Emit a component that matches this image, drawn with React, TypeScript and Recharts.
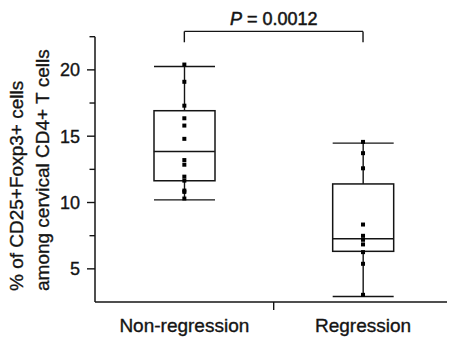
import React from 'react';
import { ComposedChart, Bar, Scatter, XAxis, YAxis, ReferenceLine } from 'recharts';

// groups and box statistics
const groups = ['Non-regression', 'Regression'];
const groupPos = [0.5, 1.5];
const whiskerLow = [10.2, 2.92];
const quartile1 = [11.64, 6.32];
const medians = [13.84, 7.26];
const quartile3 = [16.92, 11.4];
const whiskerHigh = [20.25, 14.48];

// individual patients
const nonRegressionValues = [20.4, 19.1, 17.3, 16.35, 15.8, 14.8, 13.2, 12.85, 11.95, 11.65, 10.9, 10.8, 10.3];
const regressionValues = [14.57, 13.72, 12.58, 8.34, 7.49, 7.19, 6.84, 6.26, 5.38, 3.04];

const yTicks = [5, 7.5, 10, 12.5, 15, 17.5, 20, 22.5];
const xTicks = [0.5, 1, 1.5];
const pValue = '0.0012';

const boxRows = groups.map((name, i) => ({
  name,
  pos: groupPos[i],
  whisker: [whiskerLow[i], whiskerHigh[i]],
  box: [quartile1[i], quartile3[i]],
  median: medians[i]
}));

const pointRows = [
  ...nonRegressionValues.map((v) => ({ pos: groupPos[0], value: v })),
  ...regressionValues.map((v) => ({ pos: groupPos[1], value: v }))
];

const ink = '#141414';
const font = "'Liberation Sans', Arial, sans-serif";
// scanned figure: text looks a little heavier than plain regular weight
const textStyle = { stroke: ink, strokeWidth: 0.35 };
const boxWidth = 61;
const xDomain: [number, number] = [0, 1.97];
const bracketTop = 22.9;
const bracketFoot = 22.08;

const WhiskerShape = (props: any) => {
  const { x, y, width, height } = props;
  const top = Math.min(y, y + height);
  const bot = Math.max(y, y + height);
  const cx = x + width / 2;
  return (
    <g stroke={ink} strokeWidth={1.4}>
      <line x1={cx} x2={cx} y1={top} y2={bot} />
      <line x1={x} x2={x + width} y1={top} y2={top} />
      <line x1={x} x2={x + width} y1={bot} y2={bot} />
    </g>
  );
};

const BoxShape = (props: any) => {
  const { x, y, width, height } = props;
  return (
    <rect
      x={x}
      y={Math.min(y, y + height)}
      width={width}
      height={Math.abs(height)}
      fill='#fff'
      stroke={ink}
      strokeWidth={1.5}
    />
  );
};

const MedianShape = (props: any) => {
  const { cx, cy } = props;
  return (
    <line x1={cx - boxWidth / 2} x2={cx + boxWidth / 2} y1={cy} y2={cy} stroke={ink} strokeWidth={1.5} />
  );
};

const PointShape = (props: any) => {
  const { cx, cy } = props;
  return <rect x={cx - 2} y={cy - 2} width={4} height={4} fill='#000' />;
};

const XTick = (props: any) => {
  const { x, y, payload } = props;
  if (payload.value === 1) {
    return <line x1={x} x2={x} y1={y} y2={y + 8} stroke={ink} strokeWidth={1.4} />;
  }
  return (
    <text x={x} y={y + 30} textAnchor='middle' fontSize={19} fontFamily={font} fill={ink} style={textStyle}>
      {groups[Math.floor(payload.value)]}
    </text>
  );
};

const YTick = (props: any) => {
  const { x, y, payload } = props;
  const major = payload.value % 5 === 0;
  return (
    <g>
      <line x1={x - (major ? 8 : 5.5)} x2={x} y1={y} y2={y} stroke={ink} strokeWidth={1.4} />
      {major && (
        <text x={x - 15} y={y + 6.5} textAnchor='end' fontSize={18} fontFamily={font} fill={ink} style={textStyle}>
          {payload.value}
        </text>
      )}
    </g>
  );
};

const YLabel = () => (
  <g fontSize={19} fontFamily={font} fill={ink} style={textStyle}>
    <text x={23} y={291} textAnchor='start' transform='rotate(-90, 23, 291)'>
      % of CD25+Foxp3+ cells
    </text>
    <text x={49} y={291} textAnchor='start' transform='rotate(-90, 49, 291)'>
      among cervical CD4+ T cells
    </text>
  </g>
);

const PLabel = (props: any) => {
  const vb = props.viewBox || {};
  const cx = (vb.x || 0) + (vb.width || 0) / 2;
  return (
    <text
      x={cx}
      y={(vb.y || 0) - 6}
      textAnchor='middle'
      fontSize={18}
      fontFamily={font}
      fill={ink}
      style={{ stroke: ink, strokeWidth: 0.5 }}
    >
      <tspan fontStyle='italic'>P</tspan> = {pValue}
    </text>
  );
};

export default function App() {
  return (
    <div style={{ position: 'absolute', left: 0, top: 0, background: '#fff' }}>
      <ComposedChart
        width={451}
        height={337}
        data={boxRows}
        margin={{ top: 36.7, right: 4, bottom: 0, left: 0 }}
      >
        <XAxis xAxisId='w' dataKey='pos' type='number' domain={xDomain} height={0} hide />
        <XAxis xAxisId='b' dataKey='pos' type='number' domain={xDomain} height={0} hide />
        <XAxis
          xAxisId='main'
          dataKey='pos'
          type='number'
          domain={xDomain}
          ticks={xTicks}
          interval={0}
          tickLine={false}
          tickSize={0}
          tickMargin={0}
          height={35}
          axisLine={{ stroke: ink, strokeWidth: 1.5 }}
          tick={<XTick />}
        />
        <YAxis
          type='number'
          domain={[2.5, 22.5]}
          ticks={yTicks}
          interval={0}
          width={95}
          tickLine={false}
          tickSize={0}
          tickMargin={0}
          axisLine={{ stroke: ink, strokeWidth: 1.5 }}
          tick={<YTick />}
          label={<YLabel />}
        />
        <Bar xAxisId='w' dataKey='whisker' barSize={boxWidth} shape={<WhiskerShape />} isAnimationActive={false} />
        <Bar xAxisId='b' dataKey='box' barSize={boxWidth} shape={<BoxShape />} isAnimationActive={false} />
        <Scatter xAxisId='main' data={boxRows} dataKey='median' shape={<MedianShape />} isAnimationActive={false} />
        <Scatter xAxisId='main' data={pointRows} dataKey='value' shape={<PointShape />} isAnimationActive={false} />
        <ReferenceLine
          xAxisId='main'
          segment={[{ x: groupPos[0], y: bracketTop }, { x: groupPos[1], y: bracketTop }]}
          ifOverflow='visible'
          stroke={ink}
          strokeWidth={1.4}
          label={<PLabel />}
        />
        <ReferenceLine
          xAxisId='main'
          segment={[{ x: groupPos[0], y: bracketTop }, { x: groupPos[0], y: bracketFoot }]}
          ifOverflow='visible'
          stroke={ink}
          strokeWidth={1.4}
        />
        <ReferenceLine
          xAxisId='main'
          segment={[{ x: groupPos[1], y: bracketTop }, { x: groupPos[1], y: bracketFoot }]}
          ifOverflow='visible'
          stroke={ink}
          strokeWidth={1.4}
        />
      </ComposedChart>
    </div>
  );
}
